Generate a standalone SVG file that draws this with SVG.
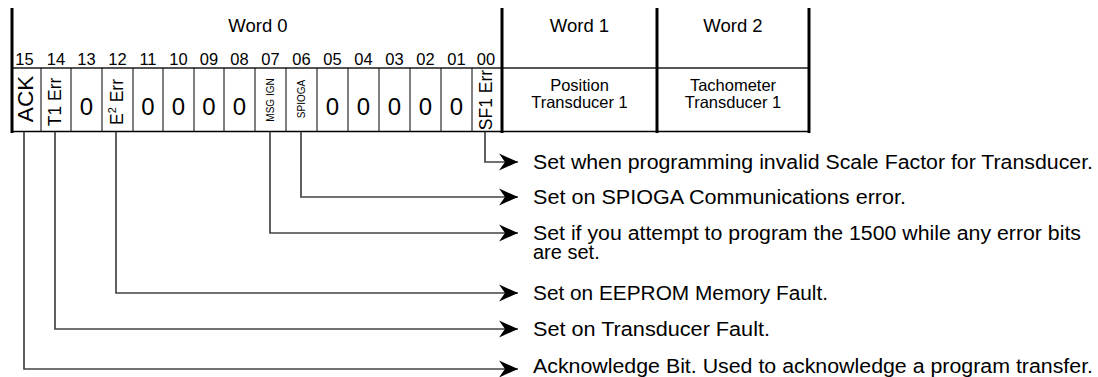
<svg xmlns="http://www.w3.org/2000/svg" width="1098" height="377" viewBox="0 0 1098 377">
<style>
text{font-family:"Liberation Sans",Arial,sans-serif;fill:#000}
.thick{stroke:#000;stroke-width:3;fill:none}
.div{stroke:#000;stroke-width:1;fill:none}
.hl{stroke:#555;stroke-width:2;fill:none}
.num{font-size:16.5px;text-anchor:middle}
.zero{font-size:24px;text-anchor:middle}
.word{font-size:18.5px;text-anchor:middle}
.cell{font-size:16.5px;text-anchor:middle}
.rot{font-size:17.5px;text-anchor:middle}
.small{font-size:10px;text-anchor:middle}
.desc{font-size:20px}
.conn{stroke:#444;stroke-width:1.7;fill:none}
</style>
<defs>
<marker id="arr" markerUnits="userSpaceOnUse" markerWidth="20" markerHeight="20" refX="19" refY="10" orient="auto">
<path d="M0,1.5 L19,10 L0,18.5 L6,10 Z" fill="#000"/>
</marker>
</defs>
<g id="register">
<line class="hl" x1="12" y1="68" x2="809" y2="68"/>
<line class="div" x1="12" y1="131.5" x2="809" y2="131.5" style="stroke-width:1.5"/>
<line class="div" x1="41" y1="68" x2="41" y2="132"/>
<line class="div" x1="71" y1="68" x2="71" y2="132"/>
<line class="div" x1="102" y1="68" x2="102" y2="132"/>
<line class="div" x1="133" y1="68" x2="133" y2="132"/>
<line class="div" x1="163" y1="68" x2="163" y2="132"/>
<line class="div" x1="194" y1="68" x2="194" y2="132"/>
<line class="div" x1="224" y1="68" x2="224" y2="132"/>
<line class="div" x1="255" y1="68" x2="255" y2="132"/>
<line class="div" x1="286" y1="68" x2="286" y2="132"/>
<line class="div" x1="317" y1="68" x2="317" y2="132"/>
<line class="div" x1="348" y1="68" x2="348" y2="132"/>
<line class="div" x1="379" y1="68" x2="379" y2="132"/>
<line class="div" x1="410" y1="68" x2="410" y2="132"/>
<line class="div" x1="441" y1="68" x2="441" y2="132"/>
<line class="div" x1="472" y1="68" x2="472" y2="132"/>
<line class="thick" x1="12" y1="8" x2="12" y2="133"/>
<line class="thick" x1="502" y1="8" x2="502" y2="133"/>
<line class="thick" x1="657" y1="8" x2="657" y2="133"/>
<line class="thick" x1="809" y1="8" x2="809" y2="133"/>
</g>
<g id="word0">
<text class="word" x="258" y="32">Word 0</text>
<text class="num" x="24.5" y="65">15</text>
<text class="num" x="56" y="65">14</text>
<text class="num" x="86.5" y="65">13</text>
<text class="num" x="117.5" y="65">12</text>
<text class="num" x="148" y="65">11</text>
<text class="num" x="178.5" y="65">10</text>
<text class="num" x="209" y="65">09</text>
<text class="num" x="239.5" y="65">08</text>
<text class="num" x="270.5" y="65">07</text>
<text class="num" x="301.5" y="65">06</text>
<text class="num" x="332.5" y="65">05</text>
<text class="num" x="363.5" y="65">04</text>
<text class="num" x="394.5" y="65">03</text>
<text class="num" x="425.5" y="65">02</text>
<text class="num" x="456.5" y="65">01</text>
<text class="num" x="486" y="65">00</text>
</g>
<g id="bit15"><text transform="translate(33,99) rotate(-90)" style="font-size:22.5px;text-anchor:middle">ACK</text></g>
<g id="bit14"><text class="rot" transform="translate(61,102) rotate(-90)">T1 Err</text></g>
<g id="bit13"><text class="zero" x="86.5" y="115">0</text></g>
<g id="bit12"><text class="rot" transform="translate(123,102) rotate(-90)">E<tspan dy="-7" style="font-size:11px">2</tspan><tspan dy="7"> Err</tspan></text></g>
<g id="bit11"><text class="zero" x="148" y="115">0</text></g>
<g id="bit10"><text class="zero" x="178.5" y="115">0</text></g>
<g id="bit09"><text class="zero" x="209" y="115">0</text></g>
<g id="bit08"><text class="zero" x="239.5" y="115">0</text></g>
<g id="bit07"><text class="small" transform="translate(274,100) rotate(-90)">MSG IGN</text></g>
<g id="bit06"><text class="small" transform="translate(305,99) rotate(-90)">SPIOGA</text></g>
<g id="bit05"><text class="zero" x="332.5" y="115">0</text></g>
<g id="bit04"><text class="zero" x="363.5" y="115">0</text></g>
<g id="bit03"><text class="zero" x="394.5" y="115">0</text></g>
<g id="bit02"><text class="zero" x="425.5" y="115">0</text></g>
<g id="bit01"><text class="zero" x="456.5" y="115">0</text></g>
<g id="bit00"><text class="rot" transform="translate(492,100) rotate(-90)">SF1 Err</text></g>
<g id="word1">
<text class="word" x="579.5" y="32">Word 1</text>
<text class="cell" x="579.5" y="91">Position</text>
<text class="cell" x="579.5" y="108">Transducer 1</text>
</g>
<g id="word2">
<text class="word" x="733" y="32">Word 2</text>
<text class="cell" x="733" y="91">Tachometer</text>
<text class="cell" x="733" y="108">Transducer 1</text>
</g>
<g id="connectors">
<path class="conn" d="M485,132 V162 H518" marker-end="url(#arr)"/>
<path class="conn" d="M301,132 V197 H518" marker-end="url(#arr)"/>
<path class="conn" d="M270,132 V233 H518" marker-end="url(#arr)"/>
<path class="conn" d="M116,132 V293 H518" marker-end="url(#arr)"/>
<path class="conn" d="M55,132 V329 H518" marker-end="url(#arr)"/>
<path class="conn" d="M24,132 V369 H518" marker-end="url(#arr)"/>
</g>
<g id="descriptions">
<text class="desc" x="533" y="169" textLength="560" lengthAdjust="spacingAndGlyphs">Set when programming invalid Scale Factor for Transducer.</text>
<text class="desc" x="533" y="204" textLength="373" lengthAdjust="spacingAndGlyphs">Set on SPIOGA Communications error.</text>
<text class="desc" x="533" y="239.5" textLength="548" lengthAdjust="spacingAndGlyphs">Set if you attempt to program the 1500 while any error bits</text>
<text class="desc" x="533" y="258.5">are set.</text>
<text class="desc" x="533" y="300" textLength="295" lengthAdjust="spacingAndGlyphs">Set on EEPROM Memory Fault.</text>
<text class="desc" x="533" y="336" textLength="237" lengthAdjust="spacingAndGlyphs">Set on Transducer Fault.</text>
<text class="desc" x="533" y="373" textLength="560" lengthAdjust="spacingAndGlyphs">Acknowledge Bit. Used to acknowledge a program transfer.</text>
</g>
</svg>
